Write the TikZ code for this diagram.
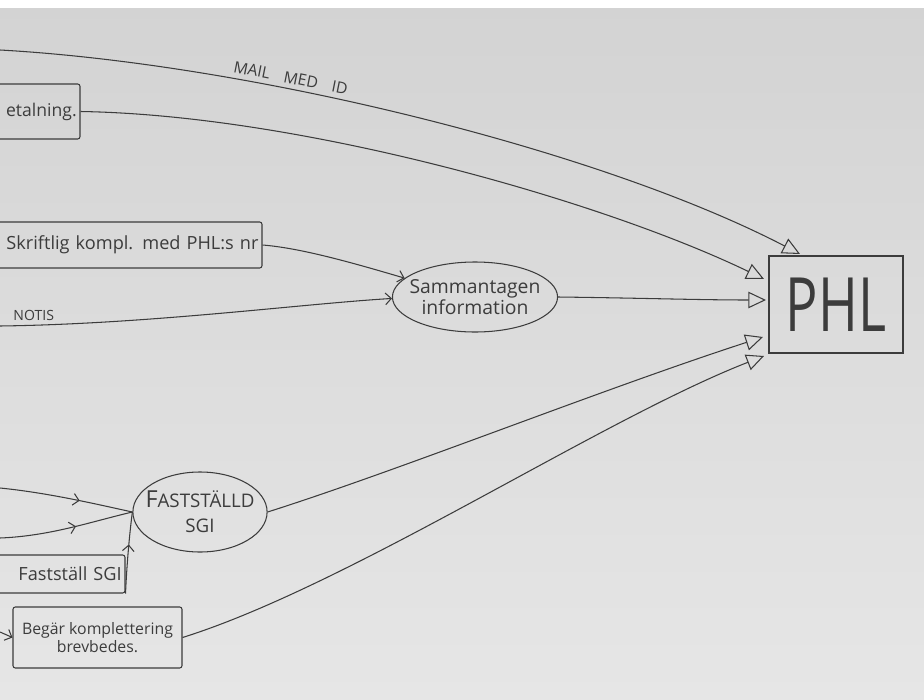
\documentclass[tikz,border=0pt]{standalone}
\usepackage{fontspec}
\setmainfont{Open Sans}
\usetikzlibrary{arrows.meta,shapes.geometric,decorations.markings,calc}
\definecolor{ink}{HTML}{3c3c3c}
\definecolor{bgtop}{HTML}{d3d3d3}
\definecolor{bgbot}{HTML}{e6e6e6}
\begin{document}
\begin{tikzpicture}[x=0.03cm,y=-0.03cm,
  line/.style={draw=ink, line width=0.9pt},
  openhead/.style={-{Triangle[open,length=15pt,width=14pt,line width=0.9pt]}},
  chev/.style={-{Straight Barb[length=5pt,width=10pt,line width=0.9pt]}},
  midchev/.style={postaction={decorate},decoration={markings,mark=at position #1 with {\arrow{Straight Barb[length=5pt,width=10pt,line width=0.9pt]}}}},
  box/.style={draw=ink, line width=0.9pt, rounded corners=2pt, inner sep=2pt, text=ink},
  oval/.style={ellipse, draw=ink, line width=0.9pt, inner sep=-6pt, text=ink, align=center},
  hand/.style={text=ink},
]
% background
\shade[top color=bgtop, bottom color=bgbot] (0,0) rectangle (924,700);
\fill[white] (0,0) rectangle (924,8);
\useasboundingbox (0,0) rectangle (924,700);

% nodes
\node[box, minimum width=2.7cm, minimum height=1.65cm, text width=2.5cm, align=right,
      font=\fontsize{15}{17}\selectfont] (utb) at (35,111.5) {etalning.};
\node[box, minimum width=8.16cm, minimum height=1.38cm, text width=7.95cm, align=right,
      font=\fontsize{15.5}{17}\selectfont] (skr) at (126,245) {Skriftlig kompl. med PHL:s nr};
\node[oval, minimum width=4.8cm, minimum height=2.1cm,
      font=\fontsize{16.5}{18}\selectfont] (sam) at (475,297) {Sammantagen\\information};
\node[draw=ink, line width=0.9pt, minimum width=4.02cm, minimum height=2.91cm, inner sep=0pt,
      text=ink, font=\fontsize{64}{64}\selectfont] (phl) at (836,304.5) {\scalebox{0.72}[1]{PHL}};
\node[oval, minimum width=3.9cm, minimum height=2.4cm,
      font=\fontsize{16}{21}\selectfont] (fst) at (200,512)
      {{\fontsize{20}{21}\selectfont F}ASTSTÄLLD\\SGI};
\node[box, minimum width=4.05cm, minimum height=1.14cm, text width=3.85cm, align=right,
      font=\fontsize{15.5}{17}\selectfont] (fss) at (57.5,574) {Fastställ SGI\hspace{0.3cm}};
\node[box, minimum width=5.07cm, minimum height=1.83cm, align=center,
      font=\fontsize{13.5}{16}\selectfont] (beg) at (97.5,637.5) {Begär komplettering\\brevbedes.};

% free ends
\coordinate (mailstart) at (0,50);
\coordinate (notisstart) at (0,326);
\coordinate (f1start) at (0,488);
\coordinate (f2start) at (0,538);
\coordinate (begstart) at (0,632);
\coordinate (p1) at (800,254);
\coordinate (p2) at (764,279);
\coordinate (p3) at (766,300);
\coordinate (p4) at (763,337);
\coordinate (p5) at (764,356);

% connectors to PHL
\draw[line, openhead] (mailstart) .. controls (250,64) and (600,150) .. (p1)
  node[pos=0.35, above, sloped, hand, yshift=1pt, font=\fontsize{13.5}{16}\selectfont]
  {MAIL\hspace{0.9em}MED\hspace{0.9em}ID};
\draw[line, openhead] (utb.east) .. controls (300,115) and (600,200) .. (p2);
\draw[line, openhead] (sam.east) .. controls (640,298) and (700,300) .. (p3);
\draw[line, openhead] (fst.east) .. controls (400,470) and (600,390) .. (p4);
\draw[line, openhead] (beg.east) .. controls (350,585) and (600,420) .. (p5);

% connectors to Sammantagen
\draw[line, chev] (skr.east) .. controls (300,248) and (350,262) .. (sam.165);
\draw[line, chev] (notisstart) .. controls (150,324) and (300,304) .. (sam.181)
  node[pos=0.075, above, hand, font=\fontsize{12}{14}\selectfont] {NOTIS};

% connectors to Fastställd SGI
\draw[line, midchev=0.6] (f1start) .. controls (50,493) and (100,505) .. (fst.west);
\draw[line, midchev=0.57] (f2start) .. controls (50,536) and (90,522) .. (fst.west);
\draw[line, midchev=0.6] (fss.south east) .. controls (127,560) and (130,530) .. (fst.west);

% into Begär
\draw[line, chev] (begstart) -- (beg.west);
\end{tikzpicture}
\end{document}
